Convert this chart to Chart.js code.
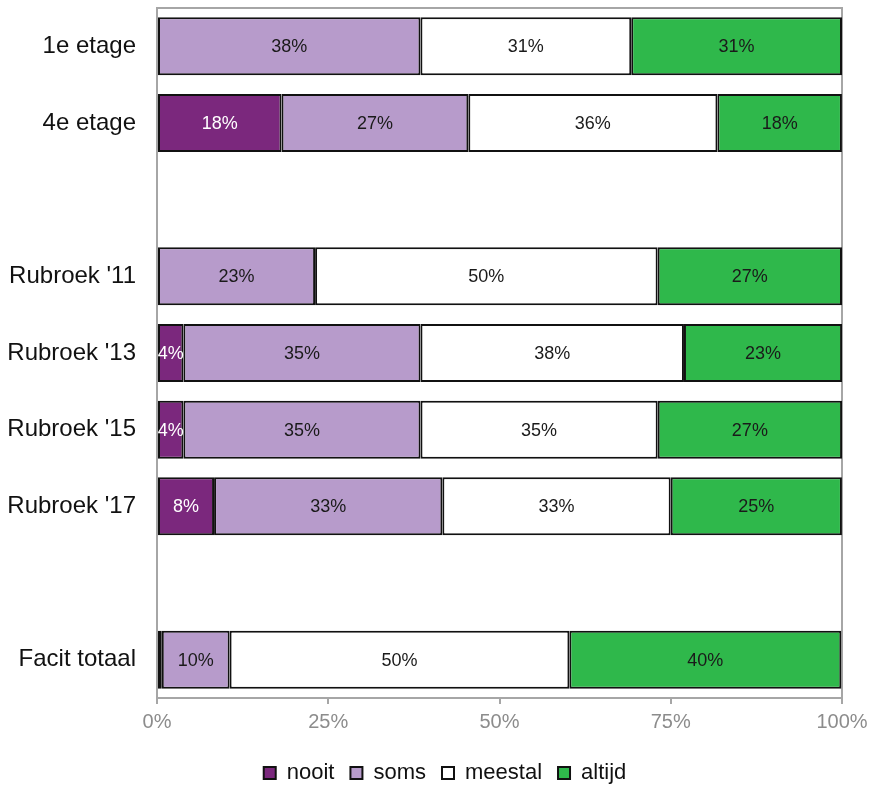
<!DOCTYPE html>
<html>
<head>
<meta charset="utf-8">
<script src="https://cdn.jsdelivr.net/npm/chart.js@4"></script>
<style>
  html, body { margin: 0; padding: 0; background: #fff; }
  #wrap { width: 869px; height: 787px; }
</style>
</head>
<body>
<div id="wrap"><canvas id="chart" width="869" height="787"></canvas></div>
<script>
// categories (empty strings are the gaps between groups)
var groups = ["1e etage", "4e etage", "", "Rubroek '11", "Rubroek '13", "Rubroek '15", "Rubroek '17", "", "Facit totaal"]

// share per answer, in percent
var nooit   = [0,     18.18, null, 0,     3.85,  3.85,  8.33,  null, 0.7]
var soms    = [38.46, 27.27, null, 23.08, 34.62, 34.62, 33.33, null, 9.9]
var meestal = [30.77, 36.36, null, 50.0,  38.46, 34.62, 33.33, null, 49.6]
var altijd  = [30.77, 18.18, null, 26.92, 23.08, 26.92, 25.0,  null, 39.7]

var xTicks = [0, 25, 50, 75, 100]

var grey = "#a6a6a6"
var font = "'Liberation Sans', Arial, sans-serif"

// labels in the middle of each segment
var segmentLabels = {
  id: "segmentLabels",
  afterDatasetsDraw: function (chart) {
    var ctx = chart.ctx
    ctx.save()
    ctx.font = "18px " + font
    ctx.textAlign = "center"
    ctx.textBaseline = "middle"
    chart.data.datasets.forEach(function (ds, i) {
      var meta = chart.getDatasetMeta(i)
      meta.data.forEach(function (bar, j) {
        var v = ds.data[j]
        if (v == null || v < 2) return
        ctx.fillStyle = i == 0 ? "#ffffff" : "#1a1a1a"
        ctx.fillText(Math.round(v) + "%", (bar.x + bar.base) / 2, bar.y + 1)
      })
    })
    ctx.restore()
  }
}

// grey frame on top and right of the plot
var frame = {
  id: "frame",
  beforeDatasetsDraw: function (chart) {
    var a = chart.chartArea
    var ctx = chart.ctx
    ctx.save()
    ctx.strokeStyle = grey
    ctx.lineWidth = 2
    ctx.beginPath()
    ctx.moveTo(a.left, a.top)
    ctx.lineTo(a.right, a.top)
    ctx.lineTo(a.right, a.bottom)
    ctx.stroke()
    ctx.restore()
  }
}

// legend: less height, a bit to the right
var legendTweak = {
  id: "legendTweak",
  beforeInit: function (chart) {
    var fit = chart.legend.fit
    chart.legend.fit = function () {
      fit.bind(chart.legend)()
      this.height = 41
    }
  },
  afterLayout: function (chart) {
    chart.legend.left += 24
    chart.legend.right += 24
  }
}

function bars(label, data, color) {
  return {
    label: label,
    data: data,
    backgroundColor: color,
    borderColor: "#111111",
    borderWidth: 2,
    borderSkipped: false,
    barPercentage: 1,
    categoryPercentage: 0.756
  }
}

var chart = new Chart(document.getElementById("chart").getContext("2d"), {
  type: "bar",
  data: {
    labels: groups,
    datasets: [
      bars("nooit", nooit, "#7b287d"),
      bars("soms", soms, "#b79bcb"),
      bars("meestal", meestal, "#ffffff"),
      bars("altijd", altijd, "#2fb84b")
    ]
  },
  options: {
    indexAxis: "y",
    responsive: false,
    animation: false,
    layout: { padding: { top: 8, right: 27, left: 0, bottom: 0 } },
    scales: {
      x: {
        stacked: true,
        min: 0,
        max: 100,
        afterBuildTicks: function (scale) {
          scale.ticks = xTicks.map(function (v) { return { value: v } })
        },
        afterFit: function (scale) {
          scale.height = 48
          scale.paddingLeft = 0
          scale.paddingRight = 0
        },
        grid: { drawOnChartArea: false, drawTicks: true, tickLength: 6, color: grey, lineWidth: 2 },
        border: { display: true, color: grey, width: 2 },
        ticks: {
          color: "#8c8c8c",
          padding: 6,
          font: { family: font, size: 20 },
          callback: function (v) { return v + "%" }
        }
      },
      y: {
        stacked: true,
        afterFit: function (scale) {
          scale.width = 157
          scale.paddingTop = 0
          scale.paddingBottom = 0
        },
        grid: { display: false },
        border: { display: true, color: grey, width: 2 },
        ticks: {
          color: "#111111",
          padding: 13,
          font: { family: font, size: 24 }
        }
      }
    },
    plugins: {
      tooltip: { enabled: false },
      legend: {
        position: "bottom",
        labels: {
          color: "#111111",
          boxWidth: 12,
          boxHeight: 12,
          padding: 16,
          font: { family: font, size: 22 }
        }
      }
    }
  },
  plugins: [segmentLabels, frame, legendTweak]
})
</script>
</body>
</html>
